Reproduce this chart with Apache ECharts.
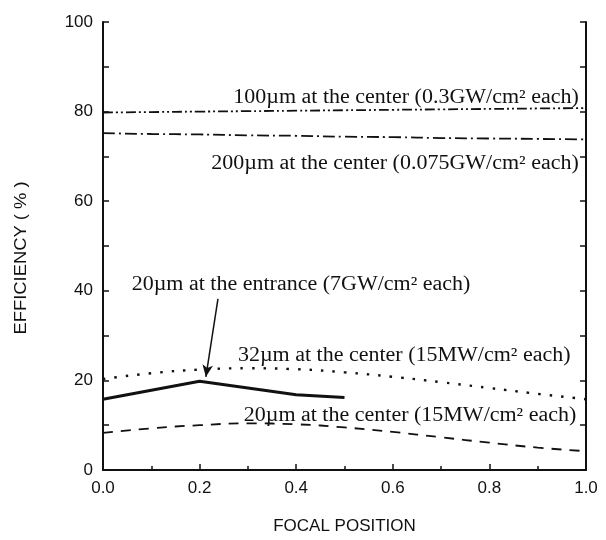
<!DOCTYPE html>
<html>
<head>
<meta charset="utf-8">
<script src="https://cdn.jsdelivr.net/npm/echarts@6/dist/echarts.min.js"></script>
<style>html,body{margin:0;padding:0;background:#fff}#c{width:606px;height:540px}</style>
</head>
<body>
<div id="c"></div>
<script>
// ---- data ----
const focalPos = [0, 0.1, 0.2, 0.3, 0.4, 0.5, 0.6, 0.7, 0.8, 0.9, 1.0];
const eff100umCenter = [79.8, 79.9, 80.0, 80.1, 80.2, 80.3, 80.4, 80.5, 80.6, 80.7, 80.8];
const eff200umCenter = [75.2, 75.0, 74.9, 74.7, 74.6, 74.4, 74.3, 74.1, 74.0, 73.9, 73.8];
const eff32umCenter  = [20.3, 21.6, 22.4, 22.7, 22.5, 21.8, 20.8, 19.6, 18.3, 17.0, 15.8];
const eff20umCenter  = [8.3, 9.3, 10.0, 10.4, 10.2, 9.5, 8.5, 7.3, 6.1, 5.0, 4.2];
const entrancePos = [0, 0.2, 0.4, 0.5];
const eff20umEntrance = [15.8, 19.8, 16.8, 16.2];
const xTicks = [0, 0.2, 0.4, 0.6, 0.8, 1.0];
const yTicks = [0, 20, 40, 60, 80, 100];

const labels = [
  {text: '100\u00b5m at the center (0.3GW/cm\u00b2 each)', x: 0.985, y: 83.0, align: 'right'},
  {text: '200\u00b5m at the center (0.075GW/cm\u00b2 each)', x: 0.985, y: 68.4, align: 'right'},
  {text: '20\u00b5m at the entrance (7GW/cm\u00b2 each)', x: 0.41, y: 41.3, align: 'center'},
  {text: '32\u00b5m at the center (15MW/cm\u00b2 each)', x: 0.968, y: 25.6, align: 'right'},
  {text: '20\u00b5m at the center (15MW/cm\u00b2 each)', x: 0.98, y: 12.2, align: 'right'}
];
const arrowFrom = [0.238, 38.2];
const arrowTo = [0.213, 20.8];

const zip = (xs, ys) => xs.map((x, i) => [x, ys[i]]);
const ink = '#111';
const sans = 'Liberation Sans, Arial, sans-serif';
const chart = echarts.init(document.getElementById('c'));
const axisFont = {color: ink, fontSize: 17, fontFamily: sans};

chart.setOption({
  animation: false,
  backgroundColor: '#fff',
  grid: {left: 103, right: 20, top: 22, bottom: 70, containLabel: false},
  xAxis: {
    type: 'value', min: 0, max: 1, interval: 0.2,
    name: 'FOCAL POSITION', nameLocation: 'middle', nameGap: 48,
    nameTextStyle: {color: ink, fontSize: 17, fontFamily: sans},
    axisLine: {show: true, lineStyle: {color: ink, width: 2}},
    axisTick: {show: true, inside: true, length: 6, lineStyle: {color: ink, width: 1.5}},
    minorTick: {show: true, splitNumber: 2, length: 4, lineStyle: {color: ink, width: 1.5}},
    axisLabel: Object.assign({margin: 10, formatter: v => v.toFixed(1)}, axisFont),
    splitLine: {show: false}
  },
  yAxis: [{
    type: 'value', min: 0, max: 100, interval: 20, position: 'left',
    axisLine: {show: true, lineStyle: {color: ink, width: 2}},
    axisTick: {show: true, inside: true, length: 6, lineStyle: {color: ink, width: 1.5}},
    minorTick: {show: true, splitNumber: 2, length: 6, lineStyle: {color: ink, width: 1.5}},
    axisLabel: Object.assign({margin: 10}, axisFont),
    splitLine: {show: false}
  }, {
    type: 'value', min: 0, max: 100, interval: 20, position: 'right',
    axisLine: {show: true, lineStyle: {color: ink, width: 2}},
    axisTick: {show: true, inside: true, length: 6, lineStyle: {color: ink, width: 1.5}},
    minorTick: {show: true, splitNumber: 2, length: 6, lineStyle: {color: ink, width: 1.5}},
    axisLabel: {show: false},
    splitLine: {show: false}
  }],
  series: [
    {type: 'line', data: zip(focalPos, eff100umCenter), symbol: 'none', smooth: true,
     lineStyle: {color: ink, width: 1.8, type: [10, 3, 2, 3, 2, 3]}},
    {type: 'line', data: zip(focalPos, eff200umCenter), symbol: 'none', smooth: true,
     lineStyle: {color: ink, width: 1.8, type: [12, 4, 2, 4]}},
    {type: 'line', data: zip(focalPos, eff32umCenter), symbol: 'none', smooth: true,
     lineStyle: {color: ink, width: 2.4, type: [2.5, 9]}},
    {type: 'line', data: zip(focalPos, eff20umCenter), symbol: 'none', smooth: true,
     lineStyle: {color: ink, width: 1.8, type: [10, 8]}},
    {type: 'line', data: zip(entrancePos, eff20umEntrance), symbol: 'none',
     lineStyle: {color: ink, width: 3, type: 'solid'},
     markLine: {silent: true, symbol: ['none', 'arrow'], symbolSize: [8, 12],
       lineStyle: {color: ink, width: 1.5, type: 'solid'}, label: {show: false},
       data: [[{coord: arrowFrom}, {coord: arrowTo}]]}}
  ]
});

const graphics = labels.map(l => {
  const p = chart.convertToPixel({gridIndex: 0}, [l.x, l.y]);
  return {type: 'text', x: p[0], y: p[1], scaleX: 1.1, silent: true,
    style: {text: l.text, fill: ink, font: '20px "Liberation Serif", "Times New Roman", serif',
      align: l.align, verticalAlign: 'middle'}};
});
// y-axis title, rotated
graphics.push({type: 'text', x: 21, y: 258, rotation: Math.PI / 2, scaleX: 1.08, silent: true,
  style: {text: 'EFFICIENCY ( % )', fill: ink, font: '17px ' + sans, align: 'center', verticalAlign: 'middle'}});
chart.setOption({graphic: graphics});
</script>
</body>
</html>
